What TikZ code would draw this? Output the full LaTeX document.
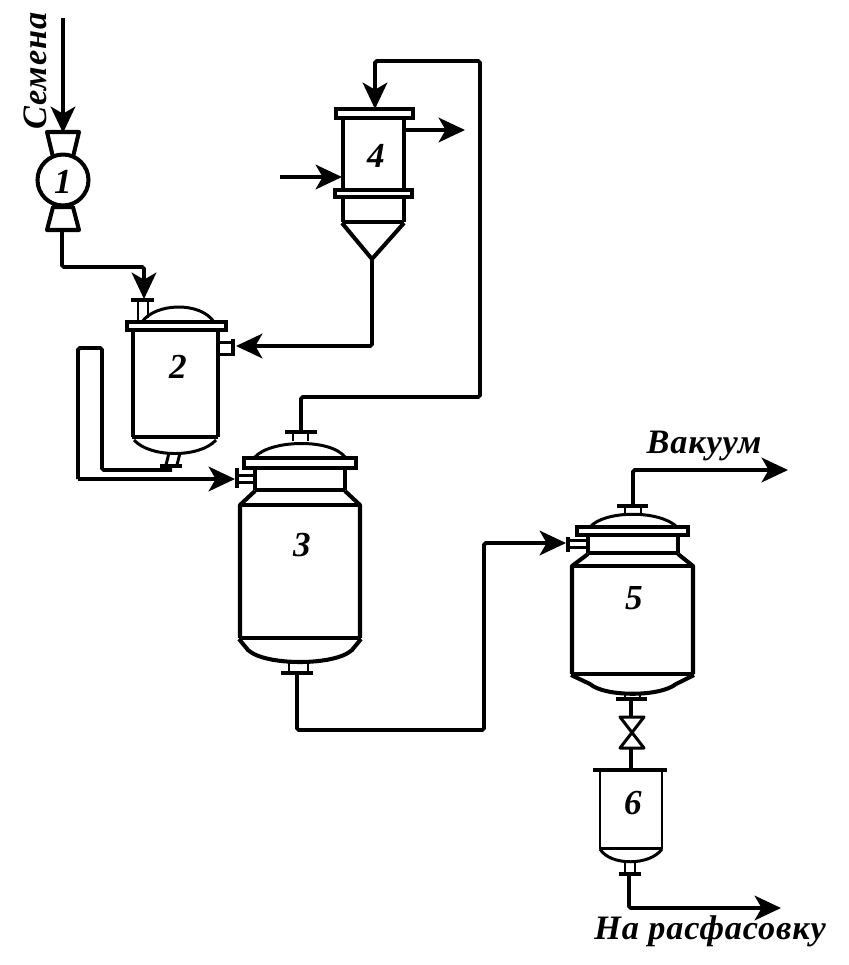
\documentclass[tikz,border=0pt]{standalone}
\usepackage{fontspec}
\setmainfont{Liberation Serif}
\newfontfamily\spacedfont[LetterSpace=2.5]{Liberation Serif}
\usetikzlibrary{arrows.meta}
\begin{document}
\begin{tikzpicture}[
        x=0.02cm, y=-0.02cm,
        wall/.style={line width=2.3pt, line join=round},
        thinwall/.style={line width=1.7pt, line join=round},
        flange/.style={line width=1.8pt, fill=white},
        pipe/.style={line width=2.2pt, rounded corners=1pt},
        flow/.style={pipe, -{Stealth[length=15pt, width=14pt, inset=4pt]}},
        number/.style={font=\bfseries\itshape\fontsize{20}{20}\selectfont, inner sep=0pt},
        caption/.style={font=\spacedfont\bfseries\itshape\fontsize{19.5}{20}\selectfont, inner sep=0pt}
    ]
        \useasboundingbox (0,0) rectangle (849,965);

        % Connection points
        \coordinate (seed_in) at (63,18);
        \coordinate (mill_in) at (63,133);
        \coordinate (mill_out) at (62,230);
        \coordinate (tank2_in) at (144,299);
        \coordinate (tank2_side) at (236,346);
        \coordinate (tank2_out) at (172,470);
        \coordinate (tank3_side) at (235,479);
        \coordinate (tank3_top) at (301,432);
        \coordinate (tank3_out) at (297,673);
        \coordinate (cond_top) at (375,109);
        \coordinate (cond_tip) at (372,260);
        \coordinate (cond_out) at (405,130);
        \coordinate (cond_out_end) at (465,130);
        \coordinate (cond_in_start) at (280,177);
        \coordinate (cond_in) at (342,177);
        \coordinate (tank5_side) at (566,543);
        \coordinate (tank5_top) at (633,506);
        \coordinate (tank5_out) at (631,699);
        \coordinate (vac_end) at (788,470);
        \coordinate (valve_top) at (631,717);
        \coordinate (valve_bot) at (631,748);
        \coordinate (tank6_top) at (631,770);
        \coordinate (tank6_out) at (629,874);
        \coordinate (pack_end) at (781,908);

        % Unit 1
        \draw[wall] (47,132) -- (79,132) -- (73,157) -- (53,157) -- cycle;
        \draw[wall] (53,207) -- (73,207) -- (79,230) -- (47,230) -- cycle;
        \node[circle, draw, wall, fill=white, minimum size=1.02cm, inner sep=0pt] (mill) at (63,180) {};
        \node[number] (mill_label) at (63,182) {1};

        % Unit 2
        \draw[thinwall] (138,300) -- (138,322) (148,300) -- (148,318);
        \draw[flange, line width=2.3pt] (131,300) -- (154,300);
        \draw[thinwall] (142,322) .. controls (155,303) and (200,301) .. (214,322);
        \draw[wall] (133,330) -- (133,437) (218,330) -- (218,437);
        \draw[wall] (132,437) -- (218,437);
        \draw[thinwall] (134,440) .. controls (150,458) and (200,458) .. (216,440);
        \draw[flange] (127,322) rectangle (226,330);
        \draw[thinwall] (219,342) -- (232,342) (219,354) -- (232,354);
        \draw[wall] (233,339) -- (233,356);
        \draw[thinwall] (169,453) -- (166,465) (180,453) -- (177,465);
        \draw[wall] (160,466) -- (182,466);
        \node[number] (tank2_label) at (178,367) {2};

        % Unit 3
        \draw[thinwall] (293,432) -- (293,441) (308,432) -- (308,441);
        \draw[wall] (285,432) -- (317,432);
        \draw[thinwall] (255,457) .. controls (270,440) and (330,438) .. (345,457);
        \draw[wall] (255,468) -- (255,490) (345,468) -- (345,490);
        \draw[wall] (255,490) -- (345,490);
        \draw[wall] (255,491) -- (240,505) -- (240,638) (345,491) -- (360,505) -- (360,638);
        \draw[wall] (240,505) -- (360,505) (239,638) -- (361,638);
        \draw[wall] (239,639) -- (248,650) .. controls (265,666) and (335,666) .. (352,650) -- (361,639);
        \draw[flange] (244,458) rectangle (356,468);
        \draw[thinwall] (238,475) -- (254,475) (238,482) -- (254,482);
        \draw[wall] (237,468) -- (237,488);
        \draw[thinwall] (289,661) -- (289,673) (308,661) -- (308,673);
        \draw[wall] (281,673) -- (313,673);
        \node[number] (tank3_label) at (302,545) {3};

        % Unit 4
        \draw[wall] (343,118) -- (343,222) (404,118) -- (404,222);
        \draw[wall] (342,222) -- (404,222);
        \draw[wall] (342,223) -- (372,259) -- (404,223);
        \draw[flange] (336,109) rectangle (413,118);
        \draw[flange] (335,190) rectangle (412,197);
        \node[number] (cond_label) at (376,156) {4};

        % Unit 5
        \draw[thinwall] (625,506) -- (625,513) (641,506) -- (641,513);
        \draw[wall] (617,506) -- (648,506);
        \draw[thinwall] (590,527) .. controls (605,510) and (660,510) .. (677,527);
        \draw[wall] (588,535) -- (588,553) (678,535) -- (678,553);
        \draw[wall] (588,553) -- (678,553);
        \draw[wall] (588,554) -- (572,566) -- (572,674) (678,554) -- (693,566) -- (693,674);
        \draw[wall] (572,566) -- (693,566) (571,674) -- (694,674);
        \draw[wall] (571,675) -- (590,684) .. controls (605,697) and (660,697) .. (676,684) -- (694,675);
        \draw[flange] (577,527) rectangle (688,535);
        \draw[thinwall] (569,540) -- (587,540) (569,547) -- (587,547);
        \draw[wall] (568,537) -- (568,552);
        \draw[thinwall] (625,692) -- (625,699) (640,692) -- (640,699);
        \draw[wall] (616,699) -- (647,699);
        \node[number] (tank5_label) at (634,598) {5};

        % Valve
        \draw[thinwall] (620,717) -- (644,717) -- (620,748) -- (644,748) -- cycle;

        % Unit 6
        \draw[wall] (593,770) -- (667,770);
        \draw[thinwall] (600,770) -- (600,849) (662,770) -- (662,849);
        \draw[thinwall] (600,848) -- (662,848);
        \draw[thinwall] (600,849) .. controls (610,866) and (650,866) .. (662,849);
        \draw[thinwall] (625,861) -- (625,874) (635,861) -- (635,874);
        \draw[wall] (619,874) -- (641,874);
        \node[number] (tank6_label) at (633,803) {6};

        % Pipes
        \draw[flow] (seed_in) -- (mill_in);
        \draw[flow] (mill_out) |- (tank2_in |- 0,267) -- (tank2_in);
        \draw[flow] (cond_tip) |- (tank2_side);
        \draw[pipe] (tank2_out) -- (102,470) -- (102,348) -- (78,348) -- (78,479);
        \draw[flow] (78,479) -- (tank3_side);
        \draw[flow] (tank3_top) |- (480,397) -- (480,61) -- (375,61) -- (cond_top);
        \draw[flow] (cond_out) -- (cond_out_end);
        \draw[flow] (cond_in_start) -- (cond_in);
        \draw[flow] (tank3_out) |- (484,730) |- (tank5_side);
        \draw[flow] (tank5_top) |- (vac_end);
        \draw[pipe] (tank5_out) -- (valve_top);
        \draw[pipe] (valve_bot) -- (tank6_top);
        \draw[flow] (tank6_out) |- (pack_end);

        % Labels
        \node[caption, rotate=90] (seed_text) at (35,71) {Семена};
        \node[caption] (vac_text) at (704,446) {Вакуум};
        \node[caption] (pack_text) at (710,931) {На расфасовку};
    \end{tikzpicture}
\end{document}
